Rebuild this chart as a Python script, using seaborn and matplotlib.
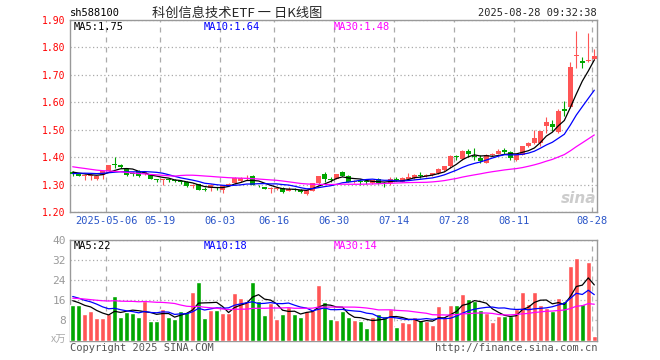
import matplotlib
matplotlib.use("Agg")
import matplotlib.pyplot as plt
import numpy as np
import pandas as pd
import seaborn as sns

# %% data (sh588100, daily)
holidays = ["2025-05-01", "2025-05-02", "2025-05-05", "2025-06-02"]
dates = pd.bdate_range("2025-04-23", "2025-08-28").difference(pd.to_datetime(holidays))

open_ = [1.345, 1.341, 1.333, 1.330, 1.320, 1.335, 1.349, 1.373, 1.373, 1.357,
         1.343, 1.349, 1.339, 1.338, 1.318, 1.316, 1.319, 1.318, 1.312, 1.310,
         1.293, 1.301, 1.283, 1.289, 1.288, 1.281, 1.298, 1.304, 1.313, 1.321,
         1.330, 1.295, 1.290, 1.284, 1.284, 1.289, 1.277, 1.283, 1.282, 1.267,
         1.277, 1.304, 1.337, 1.320, 1.322, 1.345, 1.332, 1.309, 1.313, 1.312,
         1.305, 1.322, 1.306, 1.305, 1.320, 1.310, 1.320, 1.324, 1.335, 1.331,
         1.335, 1.341, 1.354, 1.368, 1.404, 1.393, 1.421, 1.402, 1.397, 1.380,
         1.408, 1.412, 1.426, 1.420, 1.390, 1.408, 1.440, 1.450, 1.450, 1.512,
         1.520, 1.490, 1.577, 1.584, 1.768, 1.750, 1.750, 1.758]
high = [1.350, 1.344, 1.338, 1.337, 1.333, 1.350, 1.373, 1.400, 1.375, 1.360,
        1.345, 1.352, 1.348, 1.340, 1.322, 1.322, 1.322, 1.320, 1.316, 1.312,
        1.302, 1.303, 1.290, 1.303, 1.290, 1.299, 1.305, 1.328, 1.327, 1.335,
        1.335, 1.300, 1.292, 1.290, 1.292, 1.291, 1.290, 1.288, 1.285, 1.285,
        1.306, 1.332, 1.347, 1.328, 1.340, 1.348, 1.334, 1.315, 1.322, 1.318,
        1.318, 1.325, 1.308, 1.327, 1.328, 1.326, 1.342, 1.340, 1.345, 1.340,
        1.344, 1.360, 1.368, 1.408, 1.406, 1.427, 1.428, 1.432, 1.406, 1.410,
        1.414, 1.428, 1.434, 1.423, 1.410, 1.442, 1.455, 1.500, 1.496, 1.548,
        1.535, 1.575, 1.604, 1.746, 1.859, 1.764, 1.854, 1.795]
low = [1.332, 1.330, 1.315, 1.318, 1.316, 1.322, 1.348, 1.359, 1.362, 1.332,
       1.333, 1.328, 1.336, 1.320, 1.310, 1.300, 1.310, 1.308, 1.302, 1.290,
       1.288, 1.280, 1.276, 1.276, 1.280, 1.270, 1.295, 1.302, 1.310, 1.318,
       1.298, 1.290, 1.283, 1.268, 1.280, 1.270, 1.275, 1.276, 1.270, 1.262,
       1.276, 1.303, 1.311, 1.311, 1.320, 1.330, 1.308, 1.305, 1.300, 1.303,
       1.303, 1.303, 1.290, 1.300, 1.312, 1.308, 1.318, 1.322, 1.325, 1.328,
       1.333, 1.338, 1.350, 1.362, 1.390, 1.388, 1.400, 1.390, 1.377, 1.378,
       1.404, 1.410, 1.410, 1.390, 1.385, 1.406, 1.436, 1.447, 1.440, 1.488,
       1.495, 1.488, 1.549, 1.580, 1.724, 1.724, 1.748, 1.754]
close = [1.338, 1.332, 1.335, 1.334, 1.331, 1.349, 1.372, 1.371, 1.365, 1.335,
         1.340, 1.331, 1.345, 1.322, 1.316, 1.318, 1.317, 1.312, 1.310, 1.293,
         1.298, 1.282, 1.281, 1.298, 1.286, 1.298, 1.303, 1.325, 1.325, 1.323,
         1.300, 1.293, 1.285, 1.286, 1.288, 1.273, 1.285, 1.282, 1.273, 1.282,
         1.304, 1.330, 1.322, 1.318, 1.337, 1.333, 1.310, 1.311, 1.310, 1.310,
         1.317, 1.305, 1.304, 1.320, 1.318, 1.323, 1.327, 1.336, 1.333, 1.336,
         1.341, 1.355, 1.366, 1.405, 1.402, 1.424, 1.410, 1.400, 1.385, 1.408,
         1.412, 1.424, 1.420, 1.396, 1.408, 1.440, 1.453, 1.470, 1.494, 1.527,
         1.510, 1.570, 1.567, 1.730, 1.774, 1.745, 1.755, 1.768]
volume = [14.2, 14.2, 10.6, 11.8, 9.0, 9.0, 10.5, 17.8, 9.5, 11.5,
          11.1, 9.4, 15.8, 7.9, 7.9, 12.6, 9.5, 8.6, 11.8, 11.5,
          19.4, 23.1, 9.1, 12.2, 12.2, 11.1, 11.0, 19.1, 17.0, 15.9,
          23.4, 15.8, 10.2, 15.1, 8.6, 10.6, 13.4, 10.6, 9.5, 11.8,
          12.2, 22.2, 15.5, 8.6, 8.2, 11.8, 9.4, 8.2, 7.8, 5.0,
          9.3, 10.6, 9.8, 12.6, 5.4, 7.4, 7.0, 9.4, 8.0, 7.8,
          6.2, 13.8, 9.3, 14.2, 14.2, 18.6, 16.6, 15.8, 12.2, 11.0,
          7.4, 9.8, 9.8, 9.8, 12.6, 19.4, 14.6, 19.4, 14.2, 13.0,
          11.8, 17.0, 15.8, 29.8, 33.0, 14.6, 31.4, 1.8]

# sessions before the window, needed for the moving averages at the left edge
prior_close = [1.43, 1.42, 1.43, 1.42, 1.41, 1.40, 1.42, 1.40, 1.41, 1.40,
               1.39, 1.39, 1.38, 1.36, 1.37, 1.37, 1.35, 1.24, 1.26, 1.30,
               1.32, 1.33, 1.34, 1.34, 1.34, 1.35, 1.35, 1.35, 1.34]
prior_vol = [18, 17, 19, 16, 15, 14, 14, 15, 13, 12,
             14, 13, 12, 13, 14, 15, 16, 30, 26, 24,
             21, 19, 18, 18, 20, 18, 16, 15, 16]

tick_dates = ["2025-05-06", "2025-05-19", "2025-06-03", "2025-06-16", "2025-06-30",
              "2025-07-14", "2025-07-28", "2025-08-11", "2025-08-28"]
tick_labels = ["2025-05-06", "05-19", "06-03", "06-16", "06-30",
               "07-14", "07-28", "08-11", "08-28"]

# %% derived series
df = pd.DataFrame({"date": dates, "open": open_, "high": high, "low": low,
                   "close": close, "vol": volume})
df["idx"] = np.arange(len(df))
df["dir"] = np.where(df["close"] >= df["open"], "up", "down")

n = len(df)
c_all = pd.Series(prior_close + close)
v_all = pd.Series(prior_vol + volume)
for w in (5, 10, 30):
    df[f"ma{w}"] = c_all.rolling(w).mean().iloc[-n:].values
    df[f"vma{w}"] = v_all.rolling(w).mean().iloc[-n:].values

tick_pos = [df.index[df["date"] == pd.Timestamp(d)][0] - 0.4 for d in tick_dates]

# %% plot
sns.set_style("white")
plt.rcParams["font.family"] = ["DejaVu Sans Mono", "Noto Sans CJK SC"]

RED, GREEN = "#ff5555", "#00a600"
GRID = "#aaaaaa"
W, H = 660, 360

fig = plt.figure(figsize=(W / 100, H / 100), dpi=100)
ax = fig.add_axes([70 / W, 148 / H, 527 / W, 192 / H])
ax2 = fig.add_axes([70 / W, 19.5 / H, 527 / W, 100.5 / H])

x = df["idx"].to_numpy()
o, c = df["open"].to_numpy(), df["close"].to_numpy()
colors = np.where(df["dir"] == "up", RED, GREEN)
ax.vlines(x, df["low"].to_numpy(), df["high"].to_numpy(), color=colors, lw=0.8, zorder=3)
ax.bar(x, np.maximum(np.abs(c - o), 0.003), bottom=np.minimum(o, c),
       width=0.8, color=colors, linewidth=0, zorder=3)

for col, lc in (("ma5", "black"), ("ma10", "#0000ff"), ("ma30", "#ff00ff")):
    sns.lineplot(x=df["idx"], y=df[col], color=lc, lw=0.9, ax=ax, zorder=4)

sns.barplot(data=df, x="idx", y="vol", hue="dir", palette={"up": RED, "down": GREEN},
            dodge=False, saturation=1, width=0.84, native_scale=True,
            errorbar=None, legend=False, ax=ax2, zorder=3)
for col, lc in (("vma5", "black"), ("vma10", "#0000ff"), ("vma30", "#ff00ff")):
    sns.lineplot(x=df["idx"], y=df[col], color=lc, lw=0.9, ax=ax2, zorder=4)

for a in (ax, ax2):
    a.set_xlim(-0.45, n - 0.55)
    a.set_xticks(tick_pos)
    a.xaxis.grid(True, ls=(0, (4, 4)), color=GRID, lw=0.9)
    a.yaxis.grid(True, ls=(0, (1, 2)), color=GRID, lw=0.9)
    a.tick_params(length=0, pad=3)
    a.set_xlabel("")
    a.set_ylabel("")
    for s in a.spines.values():
        s.set_color("#999999")
        s.set_linewidth(1)

ax.set_ylim(1.20, 1.90)
ax.set_yticks(np.arange(1.20, 1.901, 0.10))
ax.set_yticklabels([f"{v:.2f}" for v in np.arange(1.20, 1.901, 0.10)],
                   color="#ff0000", fontsize=7)
ax.set_xticklabels(tick_labels, color="#2a55c8", fontsize=7.5)

ax2.set_ylim(0, 40)
ax2.set_yticks([0, 8, 16, 24, 32, 40])
ax2.set_yticklabels(["", "8", "16", "24", "32", "40"], color="#999999", fontsize=8)
ax2.set_xticklabels([])


def px_text(px, py, s, **kw):
    fig.text(px / W, 1 - py / H, s, va="center", **kw)


px_text(70, 13, "sh588100", fontsize=7.5, color="black")
px_text(237, 13, "科创信息技术ETF 一 日K线图", fontsize=9.5, ha="center",
        family=["Noto Sans CJK SC", "DejaVu Sans"])
px_text(597, 13, "2025-08-28 09:32:38", fontsize=7.5, ha="right")

last = df.iloc[-1]
px_text(74, 27, f"MA5:{last['ma5']:.2f}", fontsize=7.5, color="black")
px_text(204, 27, f"MA10:{last['ma10']:.2f}", fontsize=7.5, color="#0000ff")
px_text(334, 27, f"MA30:{last['ma30']:.2f}", fontsize=7.5, color="#ff00ff")
px_text(74, 246, f"MA5:{last['vma5']:.0f}", fontsize=7.5, color="black")
px_text(204, 246, f"MA10:{last['vma10']:.0f}", fontsize=7.5, color="#0000ff")
px_text(334, 246, f"MA30:{last['vma30']:.0f}", fontsize=7.5, color="#ff00ff")

px_text(66, 340, "x万", fontsize=7.5, color="#aaaaaa", ha="right",
        family=["Noto Sans CJK SC", "DejaVu Sans"])
px_text(70, 348, "Copyright 2025 SINA.COM", fontsize=7.5, color="#555555")
px_text(597, 348, "http://finance.sina.com.cn", fontsize=7.5, color="#555555", ha="right")
px_text(596, 198, "sina", fontsize=11, color="#cccccc", ha="right",
        fontweight="bold", style="italic", family="DejaVu Sans")

fig.savefig("out.png", dpi=100)
